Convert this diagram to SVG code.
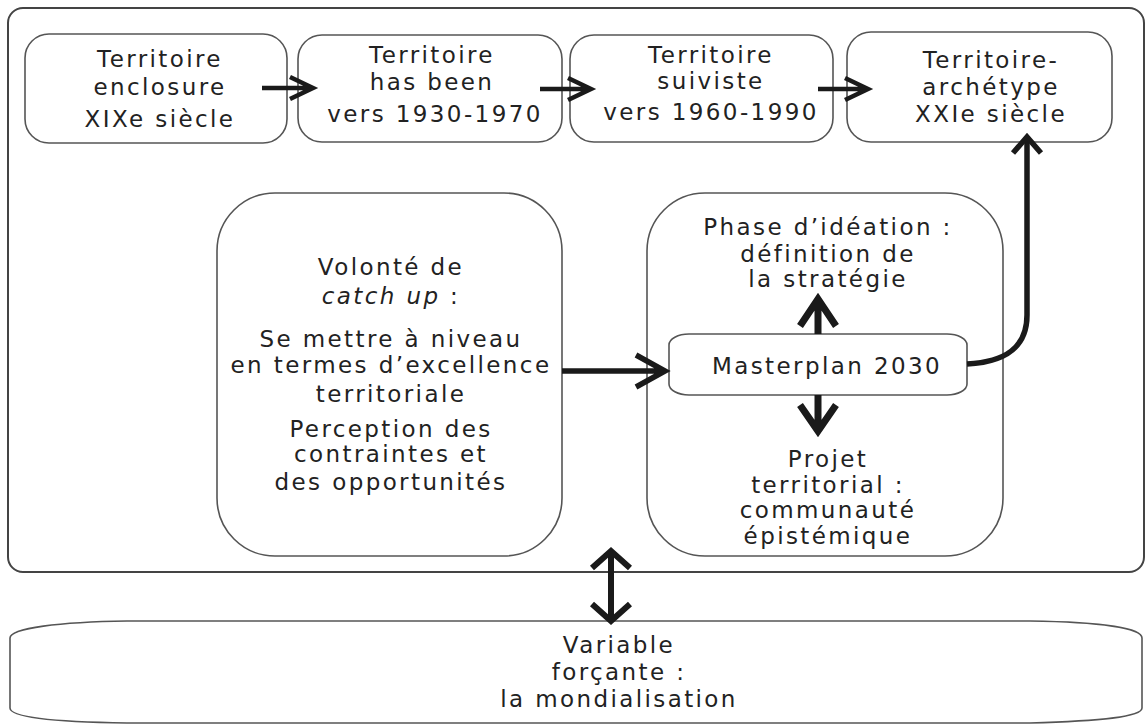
<svg xmlns="http://www.w3.org/2000/svg" width="1146" height="724" viewBox="0 0 1146 724">
<style>
.frame{fill:#fff;stroke:#444;stroke-width:2}
.box{fill:#fff;stroke:#555;stroke-width:1.6}
.t{font-family:"DejaVu Sans",Verdana,sans-serif;font-size:23px;fill:#222;text-anchor:middle;letter-spacing:2.4px}
.a{fill:none;stroke:#1a1a1a;stroke-linejoin:miter;stroke-linecap:butt}
.s1{stroke-width:4.5}
.s2{stroke-width:5.5}
.s3{stroke-width:7}
.s4{stroke-width:6}
</style>
<rect width="1146" height="724" fill="#fff"/>
<g id="frame"><rect class="frame" x="8" y="8" width="1136" height="564" rx="15"/></g>

<g id="n1"><rect class="box" x="25" y="34" width="262" height="109" rx="24"/>
<text class="t" x="160" y="67">Territoire</text>
<text class="t" x="160" y="95">enclosure</text>
<text class="t" x="160" y="127">XIXe siècle</text></g>

<g id="n2"><rect class="box" x="298" y="35" width="264" height="107" rx="24"/>
<text class="t" x="432" y="63">Territoire</text>
<text class="t" x="432" y="90">has been</text>
<text class="t" x="435" y="122">vers 1930-1970</text></g>

<g id="n3"><rect class="box" x="570" y="35" width="263" height="107" rx="24"/>
<text class="t" x="711" y="63">Territoire</text>
<text class="t" x="711" y="89">suiviste</text>
<text class="t" x="711" y="120">vers 1960-1990</text></g>

<g id="n4"><rect class="box" x="847" y="32" width="265" height="110" rx="24"/>
<text class="t" x="991" y="68">Territoire-</text>
<text class="t" x="991" y="95">archétype</text>
<text class="t" x="991" y="122">XXIe siècle</text></g>

<g id="n5"><rect class="box" x="217" y="193" width="345" height="363" rx="58"/>
<text class="t" x="391" y="275">Volonté de</text>
<text class="t" x="391" y="304"><tspan font-style="italic">catch up</tspan> :</text>
<text class="t" x="391" y="347">Se mettre à niveau</text>
<text class="t" x="391" y="373">en termes d’excellence</text>
<text class="t" x="391" y="402">territoriale</text>
<text class="t" x="391" y="437">Perception des</text>
<text class="t" x="391" y="462">contraintes et</text>
<text class="t" x="391" y="490">des opportunités</text></g>

<g id="n6"><rect class="box" x="647" y="193" width="356" height="363" rx="58"/>
<text class="t" x="828" y="235">Phase d’idéation :</text>
<text class="t" x="828" y="262">définition de</text>
<text class="t" x="828" y="287">la stratégie</text>
<text class="t" x="828" y="467">Projet</text>
<text class="t" x="828" y="493">territorial :</text>
<text class="t" x="828" y="518">communauté</text>
<text class="t" x="828" y="544">épistémique</text></g>

<g id="n7"><rect class="box" x="669" y="334" width="298" height="61" rx="20" ry="11"/>
<text class="t" x="827" y="374">Masterplan 2030</text></g>

<g id="n8"><path class="box" d="M10 638 C10 628 60 622 127 621 H1030 C1100 622 1142 628 1142 638 V708 C1142 717 1100 721 1030 723 H127 C60 722 10 718 10 708 Z"/>
<text class="t" x="619" y="653">Variable</text>
<text class="t" x="619" y="680">forçante :</text>
<text class="t" x="619" y="707">la mondialisation</text></g>

<g id="connectors">
<path class="a s1" d="M262 88 H312 M290 77 L313 88 L290 99"/>
<path class="a s1" d="M540 89 H590 M568 78 L591 89 L568 100"/>
<path class="a s1" d="M818 89 H867 M845 78 L868 89 L845 100"/>
<path class="a s2" d="M562 371 H664 M636 355 L665 371 L636 387"/>
<path class="a s3" d="M818 334 V300 M800 326 L818 299 L836 326"/>
<path class="a s3" d="M818 395 V430 M800 405 L818 431 L836 405"/>
<path class="a s2" d="M967 364 C1005 362 1027 348 1027 315 V139"/>
<path class="a s2" d="M1013 153 L1027 137 L1041 153"/>
<path class="a s4" d="M611 553 V619 M592 568 L611 551 L630 568 M592 604 L611 621 L630 604"/>
</g>
</svg>
